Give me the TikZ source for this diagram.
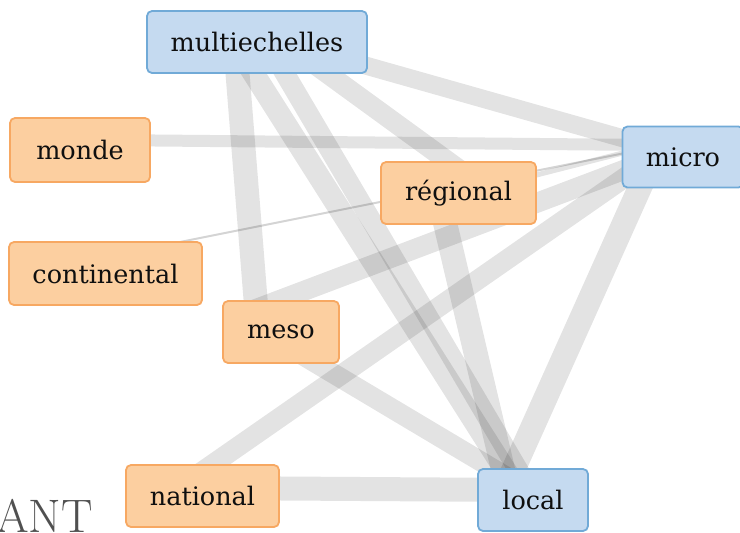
\documentclass[tikz,border=0pt]{standalone}
\usepackage{fontspec}
\newfontfamily\nodefont{DejaVu Serif}
\usetikzlibrary{backgrounds}
\definecolor{bluefill}{RGB}{197,218,240}
\definecolor{blueline}{RGB}{113,170,215}
\definecolor{orfill}{RGB}{252,207,160}
\definecolor{orline}{RGB}{247,168,98}
\definecolor{txt}{RGB}{15,15,15}
\definecolor{antgray}{RGB}{80,80,80}
\begin{document}
\begin{tikzpicture}[x=1pt,y=-1pt,
  box/.style={rounded corners=5pt, line width=1.8pt, minimum height=62pt, inner sep=0pt,
    font=\nodefont\fontsize{25.5}{30}\selectfont, text=txt},
  bluebox/.style={box, fill=bluefill, draw=blueline},
  orbox/.style={box, fill=orfill, draw=orline},
  link/.style={draw=black, draw opacity=0.11, line cap=butt},
  thinlink/.style={draw=black, draw opacity=0.17, line cap=butt, line width=2pt},
]
\useasboundingbox (0,0) rectangle (740,533);
% nodes
\node[bluebox, minimum width=220pt] (multi) at (257,42) {multiechelles};
\node[orbox, minimum width=140pt, minimum height=64pt] (monde) at (80,150) {monde};
\node[bluebox, minimum width=121pt, minimum height=61pt] (micro) at (683,157) {micro};
\node[orbox, minimum width=155pt] (regional) at (458.5,193) {régional};
\node[orbox, minimum width=193pt, minimum height=63pt] (continental) at (105.5,273.5) {continental};
\node[orbox, minimum width=116pt] (meso) at (281,332) {meso};
\node[orbox, minimum width=153pt] (national) at (202.5,496) {national};
\node[bluebox, minimum width=110pt] (local) at (533,500) {local};
\node[anchor=base east, text=antgray, font=\fontsize{47}{52}\selectfont, inner sep=0pt] (ant) at (93,532) {ANT};
% connectors
\begin{pgfonlayer}{background}
\draw[link, line width=18pt] ([shift={(43,5)}]multi.center) -- ([shift={(-33,-11)}]micro.center);
\draw[link, line width=12pt] ([shift={(20,-10)}]monde.center) -- ([shift={(-33,-12)}]micro.center);
\draw[link, line width=5pt] ([shift={(11.5,-1)}]regional.center) -- ([shift={(-33,-11)}]micro.center);
\draw[thinlink] ([shift={(44.5,-25.5)}]continental.center) -- ([shift={(-33,-9)}]micro.center);
\draw[link, line width=24pt] ([shift={(-22,0)}]multi.center) -- ([shift={(-23,-2)}]meso.center);
\draw[link, line width=22pt] ([shift={(-12,18)}]multi.center) -- ([shift={(-12,-5)}]local.center);
\draw[link, line width=20pt] ([shift={(14,8)}]multi.center) -- ([shift={(0,-5)}]local.center);
\draw[link, line width=20pt] ([shift={(38,8)}]multi.center) -- ([shift={(16.5,-12)}]regional.center);
\draw[link, line width=24pt] ([shift={(-20.5,0)}]regional.center) -- ([shift={(-24,-5)}]local.center);
\draw[link, line width=24pt] ([shift={(-24,-12)}]micro.center) -- ([shift={(-31,-5)}]local.center);
\draw[link, line width=20pt] ([shift={(-24,-4)}]meso.center) -- ([shift={(4,-5)}]local.center);
\draw[link, line width=20pt] ([shift={(-41,-17)}]meso.center) -- ([shift={(-33,3)}]micro.center);
\draw[link, line width=20pt] ([shift={(-12.5,-16)}]national.center) -- ([shift={(-33,3)}]micro.center);
\draw[link, line width=24pt] ([shift={(-0.5,-8)}]national.center) -- ([shift={(-13,-10)}]local.center);
\end{pgfonlayer}
\end{tikzpicture}
\end{document}
